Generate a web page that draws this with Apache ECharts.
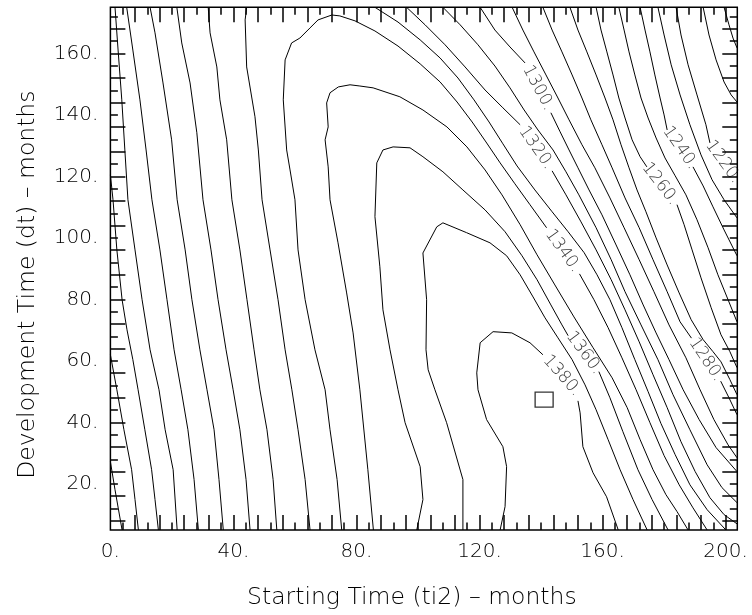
<!DOCTYPE html>
<html>
<head>
<meta charset="utf-8">
<script src="https://cdn.jsdelivr.net/npm/echarts@6/dist/echarts.min.js"></script>
<style>
  html, body { margin: 0; padding: 0; background: #fff; }
  #chart { width: 752px; height: 615px; }
</style>
</head>
<body>
<div id="chart"></div>
<script>
// Axis extents (months)
const X_MIN = 0, X_MAX = 203.8;
const Y_MIN = 5, Y_MAX = 175;

// Tick labels
const xLabelValues = [0, 40, 80, 120, 160, 200];
const yLabelValues = [20, 40, 60, 80, 100, 120, 140, 160];

// Tick marks: long every 8 months, short halfway between
const xLongTicks = [8, 16, 24, 32, 40, 48, 56, 64, 72, 80, 88, 96, 104, 112, 120, 128, 136, 144, 152, 160, 168, 176, 184, 192, 200];
const xShortTicks = [4, 12, 20, 28, 36, 44, 52, 60, 68, 76, 84, 92, 100, 108, 116, 124, 132, 140, 148, 156, 164, 172, 180, 188, 196];
const yLongTicks = [8, 16, 24, 32, 40, 48, 56, 64, 72, 80, 88, 96, 104, 112, 120, 128, 136, 144, 152, 160, 168];
const yShortTicks = [12, 20, 28, 36, 44, 52, 60, 68, 76, 84, 92, 100, 108, 116, 124, 132, 140, 148, 156, 164, 172];

// Contour lines, [ti2, dt] vertices. null leaves a gap where the level is written.
// Left-hand family (slowly rising toward the ridge)
const c1250 = [[0, 27.2], [1.5, 18.1], [3.8, 5.0]];
const c1260 = [[0, 62.0], [2.1, 50.6], [4.4, 37.6], [6.9, 24.6], [8.0, 14.9], [9.1, 5.0]];
const c1270a = [[0, 120.5], [0.85, 112.4], [2.1, 96.1], [3.8, 79.9], [5.4, 70.1], [7.3, 60.4], [9.0, 50.6], [11.2, 37.6], [13.4, 24.6], [14.5, 14.9], [15.6, 5.0]];
const c1280a = [[1.5, 175], [2.5, 161.1], [3.7, 144.9], [4.7, 128.6], [5.7, 112.4], [8.0, 96.1], [10.3, 79.9], [12.9, 63.6], [15.8, 50.6], [17.8, 37.6], [20.4, 24.6], [21.7, 5.0]];
const c1290a = [[5.3, 175], [7.3, 161.1], [9.6, 144.9], [11.6, 128.6], [13.5, 112.4], [16.1, 96.1], [18.4, 79.9], [20.7, 63.6], [23.0, 50.6], [25.2, 37.6], [27.2, 21.4], [28.6, 5.0]];
const c1300a = [[12.9, 175], [14.5, 166.7], [17.1, 150.4], [19.9, 131.9], [21.7, 112.4], [24.3, 96.1], [26.5, 79.9], [29.1, 63.6], [31.4, 50.6], [33.7, 37.6], [35.3, 21.4], [36.7, 5.0]];
const c1310a = [[21.6, 175], [23.2, 163.4], [25.9, 150.4], [28.1, 134.2], [30.1, 112.4], [32.7, 96.1], [35.0, 79.9], [37.6, 63.6], [39.9, 50.6], [42.1, 37.6], [44.1, 21.4], [45.4, 5.0]];
const c1320a = [[31.8, 175], [32.4, 166.7], [34.6, 155.6], [35.6, 144.9], [37.8, 131.9], [39.5, 112.4], [42.1, 96.1], [44.4, 79.9], [46.7, 63.6], [48.6, 50.6], [50.9, 37.6], [52.9, 21.4], [54.1, 5.0]];
const c1330a = [[44.3, 175], [43.8, 170.9], [44.3, 155.6], [47.0, 139.4], [48.1, 128.6], [49.3, 112.4], [51.9, 96.1], [54.5, 79.9], [56.8, 63.6], [59.0, 50.6], [61.0, 37.6], [63.3, 21.4], [64.9, 5.0]];

// Closed-off arcs around the maximum
const c1340 = [[75.2, 5.0], [73.7, 21.4], [71.4, 37.6], [69.8, 50.6], [66.5, 63.6], [63.3, 79.9], [61.0, 96.1], [60.0, 112.4], [58.4, 122.1], [57.3, 128.6], [56.2, 144.9], [56.8, 157.9], [58.9, 163.4], [61.6, 165.0], [64.9, 168.3], [67.5, 170.9], [72.0, 172.5], [74.6, 172.2], [79.5, 170.6], [86.0, 167.3], [93.5, 162.4], [100.7, 156.6], [107.2, 150.7], [112.7, 144.2], [117.6, 137.7], [122.1, 131.2], [126.7, 124.4], [131.5, 117.6], [136.4, 110.8], [141.8, 103.3], null, [152.5, 88.3], [157.2, 79.9], [161.8, 70.8], [166.3, 61.0], [170.9, 50.6], [175.4, 39.9], [180.0, 29.2], [184.9, 19.7], [189.4, 12.2], [194.0, 5.0]];
const c1350 = [[85.5, 5.0], [83.7, 24.6], [81.1, 50.6], [78.9, 69.1], [76.8, 82.1], [74.0, 98.4], [71.4, 112.4], [70.8, 123.1], [69.8, 131.9], [70.8, 136.1], [70.3, 143.9], [71.4, 147.2], [74.1, 149.1], [77.9, 149.8], [81.1, 149.4], [85.4, 148.8], [94.1, 145.9], [101.6, 141.6], [109.4, 136.1], [115.9, 129.6], [121.8, 122.1], [127.3, 114.0], [133.2, 104.3], [138.7, 94.5], [144.5, 84.7], [150.7, 74.3], [156.9, 64.3], [163.1, 54.5], [168.0, 44.8], [172.2, 34.4], [176.4, 24.6], [180.6, 16.5], [184.2, 11.0], [187.8, 5.0]];
const c1360 = [[99.6, 5.0], [101.6, 14.9], [100.7, 25.6], [95.8, 39.9], [93.5, 50.6], [90.9, 63.6], [88.6, 76.6], [87.6, 90.6], [86.0, 106.9], [86.6, 124.4], [88.6, 128.6], [91.9, 129.6], [97.4, 129.3], [101.6, 126.4], [108.1, 121.5], [114.6, 115.6], [121.8, 109.1], [128.3, 102.0], [133.8, 94.2], [138.7, 86.4], [143.2, 78.2], [146.8, 71.7], [148.8, 68.2], null, [158.8, 56.5], [162.4, 48.0], [166.6, 37.0], [171.5, 24.6], [176.1, 14.9], [181.3, 5.0]];
const c1370 = [[114.6, 5.0], [114.6, 21.4], [109.3, 39.9], [105.5, 50.6], [103.3, 57.1], [102.6, 63.6], [102.8, 79.9], [101.6, 95.1], [106.1, 103.6], [108.1, 104.9], [115.8, 101.7], [123.4, 98.4], [128.8, 94.2], [133.2, 88.0], [137.4, 80.8], [141.3, 74.0], [145.5, 67.5], [150.1, 60.4], [154.3, 52.2], [157.9, 44.1], [161.8, 34.4], [165.7, 24.6], [169.9, 14.9], [174.5, 5.0]];
const c1380 = [[126.7, 5.0], [128.3, 12.6], [128.8, 25.6], [127.6, 32.1], [122.3, 40.9], [119.5, 50.6], [119.1, 56.1], [120.2, 65.9], [124.4, 69.5], [130.5, 69.1], [136.4, 65.9], [140.6, 62.0], null, [152.0, 47.0], [152.7, 43.1], [153.6, 32.1], [156.9, 23.6], [161.3, 15.8], [165.1, 5.0]];

// Right-hand family (steep fall toward the far corner)
const c1330b = [[86.0, 175], [93.5, 170.2], [100.7, 164.4], [107.2, 158.5], [113.0, 152.0], [118.2, 144.9], [123.1, 137.7], [127.6, 130.6], [132.2, 123.4], [138.0, 115.6], [143.6, 108.5], [148.8, 102.0], [154.0, 95.2], [158.2, 88.0], [162.4, 79.9], [166.3, 70.8], [170.5, 60.4], [174.8, 50.0], [179.0, 39.6], [183.6, 29.5], [188.4, 19.7], [194.0, 11.6], [200.1, 5.0]];
const c1320b = [[96.3, 175], [102.3, 169.3], [108.8, 162.8], [115.3, 155.6], [121.8, 148.1], [127.6, 142.3], [133.2, 136.8], null, [143.6, 121.8], [148.1, 114.0], [153.0, 105.2], [157.9, 96.1], [162.8, 86.4], [167.3, 76.6], [171.9, 66.2], [176.4, 55.5], [181.0, 44.8], [185.5, 33.7], [190.1, 24.0], [194.9, 15.5], [199.5, 10.0], [203.7, 7.0]];
const c1310b = [[108.1, 175], [113.7, 169.3], [119.5, 162.8], [125.0, 155.9], [129.9, 148.8], [134.5, 141.6], [139.0, 135.1], [143.9, 128.6], [148.1, 121.5], [152.3, 114.0], [157.9, 103.3], [162.8, 92.9], [167.3, 82.5], [172.5, 71.7], [178.0, 60.4], [182.9, 49.0], [188.4, 37.6], [194.0, 26.2], [198.8, 18.8], [203.7, 13.9]];
const c1300b = [[120.2, 175], [125.0, 167.6], [129.9, 162.1], [134.8, 156.9], null, [143.2, 140.7], [146.2, 134.5], [149.1, 128.6], [152.0, 122.8], [155.6, 115.6], [159.8, 107.5], [164.4, 97.7], [168.9, 88.0], [173.2, 78.2], [177.4, 69.1], [181.6, 60.4], [186.2, 50.6], [191.4, 40.9], [196.9, 31.8], [203.7, 24.0]];
const c1290b = [[130.6, 175], [134.1, 167.6], [137.7, 160.5], [141.6, 153.0], [145.5, 145.5], [149.1, 138.4], [153.3, 130.3], [157.5, 122.8], [162.4, 113.0], [167.0, 103.3], [171.9, 92.9], [176.7, 82.5], [181.6, 71.7], [187.1, 61.0], [191.7, 50.6], [196.2, 40.9], [200.8, 32.7], [203.7, 28.5]];
const c1280b = [[140.6, 175], [143.6, 167.6], [146.8, 160.5], [150.1, 153.0], [153.3, 145.5], [156.2, 138.4], [159.8, 130.3], [163.1, 122.8], [167.3, 113.0], [171.9, 103.3], [176.4, 92.9], [181.0, 82.5], [185.2, 72.7], [188.9, 67.4], null, [198.4, 53.4], [201.1, 48.0], [203.7, 42.5]];
const c1270b = [[149.4, 175], [152.0, 167.6], [154.9, 160.5], [157.9, 153.0], [160.8, 145.5], [163.4, 138.4], [166.0, 130.3], [168.6, 122.8], [171.2, 115.6], [174.1, 108.5], [177.4, 100.0], [181.0, 91.2], [184.9, 82.1], [188.8, 73.4], [192.7, 66.9], [195.9, 63.0], [198.5, 59.7], [201.4, 53.9], [203.7, 49.0]];
const c1260b = [[157.9, 175], [159.5, 167.6], [161.4, 160.5], [163.4, 153.0], [165.3, 145.5], [167.3, 139.0], [169.6, 131.9], [172.2, 126.4], [174.4, 123.1], null, [184.2, 110.8], [186.5, 104.3], [189.1, 96.1], [192.0, 87.0], [195.3, 77.3], [198.5, 68.5], [201.4, 63.0], [203.7, 57.8]];
const c1250b = [[165.3, 175], [167.0, 167.6], [168.6, 160.5], [170.5, 153.0], [172.5, 145.5], [174.8, 139.0], [177.4, 132.5], [180.3, 126.0], [183.6, 120.2], [187.1, 114.0], [190.7, 105.9], [194.3, 96.8], [197.5, 88.0], [200.8, 79.9], [203.7, 72.7]];
const c1240 = [[172.2, 175], [173.8, 167.6], [175.4, 160.5], [177.0, 153.0], [178.7, 145.5], [180.0, 140.0], [181.0, 135.1], null, [189.4, 123.1], [192.7, 116.9], [195.9, 110.1], [199.5, 102.6], [203.7, 94.2]];
const c1230 = [[178.0, 175], [180.0, 166.0], [182.3, 156.3], [185.2, 146.5], [188.4, 136.8], [192.0, 127.0], [195.6, 118.9], [199.5, 112.4], [203.7, 106.5]];
const c1220 = [[183.9, 175], [185.5, 166.0], [187.8, 156.3], [190.7, 146.5], [193.6, 136.8], [194.9, 130.9]];
const c1210 = [[192.7, 175], [194.6, 166.0], [196.9, 157.9], [199.5, 150.7], [201.8, 146.5], [203.7, 144.2]];
const c1200 = [[199.5, 175], [201.1, 169.3], [202.4, 165.0], [203.7, 161.8]];

// Written levels: [ti2, dt, level, text angle]
const contourLabels = [
  [146.8, 55.2, 1380, -48],
  [154.0, 62.6, 1360, -53],
  [147.1, 95.8, 1340, -54],
  [138.4, 129.3, 1320, -55],
  [139.0, 148.8, 1300, -62],
  [193.6, 60.4, 1280, -56],
  [178.7, 117.6, 1260, -52],
  [185.2, 129.3, 1240, -55],
  [199.2, 124.7, 1220, -54]
];

// Location of the maximum
const maxPoint = [[141.0, 47.4]];

const contours = [
  c1250, c1260, c1270a, c1280a, c1290a, c1300a, c1310a, c1320a, c1330a,
  c1340, c1350, c1360, c1370, c1380,
  c1330b, c1320b, c1310b, c1300b, c1290b, c1280b, c1270b, c1260b, c1250b,
  c1240, c1230, c1220, c1210, c1200
];

const FONT = "'DejaVu Sans ExtraLight', 'DejaVu Sans', sans-serif";
const WEIGHT = 200;
const INK = '#000';

function tickAxis(kind, position, ticks, length, extra) {
  const isX = kind === 'x';
  return Object.assign({
    type: 'value',
    position: position,
    min: isX ? X_MIN : Y_MIN,
    max: isX ? X_MAX : Y_MAX,
    axisLine: { show: false, onZero: false },
    axisTick: { show: true, inside: true, length: length, customValues: ticks, lineStyle: { color: INK, width: 1.5 } },
    axisLabel: { show: false },
    splitLine: { show: false }
  }, extra || {});
}

const chart = echarts.init(document.getElementById('chart'), null, { renderer: 'canvas' });

const series = contours.map(function (pts) {
  return {
    type: 'line',
    data: pts.map(function (p) { return p === null ? [null, null] : p; }),
    showSymbol: false,
    symbol: 'none',
    connectNulls: false,
    silent: true,
    lineStyle: { color: INK, width: 1 },
    animation: false,
    z: 2
  };
});

series.push({
  type: 'scatter',
  data: contourLabels.map(function (d) { return { value: [d[0], d[1]], level: d[2] }; }),
  symbolSize: 0,
  silent: true,
  animation: false,
  label: {
    show: true,
    position: 'inside',
    fontFamily: FONT,
    fontWeight: WEIGHT,
    fontSize: 17,
    color: INK,
    formatter: function (p) { return p.data.level + '.'; }
  },
  labelLayout: function (params) {
    return { rotate: contourLabels[params.dataIndex][3] };
  },
  z: 3
});

series.push({
  type: 'scatter',
  data: maxPoint,
  symbol: 'rect',
  symbolSize: [18, 15],
  silent: true,
  animation: false,
  itemStyle: { color: 'rgba(0,0,0,0)', borderColor: INK, borderWidth: 1.2 },
  z: 3
});

chart.setOption({
  backgroundColor: '#fff',
  animation: false,
  grid: {
    left: 110.4, top: 7.3, width: 626.9, height: 523,
    show: true, borderColor: INK, borderWidth: 1.5, backgroundColor: 'transparent'
  },
  xAxis: [
    tickAxis('x', 'bottom', xLongTicks, 15, {
      axisLabel: {
        show: true, customValues: xLabelValues, margin: 12,
        fontFamily: FONT, fontWeight: WEIGHT, fontSize: 20, color: INK,
        formatter: function (v) { return v + '.'; }
      },
      name: 'Starting Time (ti2) \u2013 months',
      nameLocation: 'middle', nameGap: 56,
      nameTextStyle: { fontFamily: FONT, fontWeight: WEIGHT, fontSize: 23.5, color: INK, padding: [0, 24, 0, 0] }
    }),
    tickAxis('x', 'top', xLongTicks, 15),
    tickAxis('x', 'bottom', xShortTicks, 7.5),
    tickAxis('x', 'top', xShortTicks, 7.5)
  ],
  yAxis: [
    tickAxis('y', 'left', yLongTicks, 15, {
      axisLabel: {
        show: true, customValues: yLabelValues, margin: 12,
        fontFamily: FONT, fontWeight: WEIGHT, fontSize: 20, color: INK,
        formatter: function (v) { return v + '.'; }
      },
      name: 'Development Time (dt) \u2013 months',
      nameLocation: 'middle', nameGap: 71,
      nameTextStyle: { fontFamily: FONT, fontWeight: WEIGHT, fontSize: 23.5, color: INK, padding: [0, 32, 0, 0] }
    }),
    tickAxis('y', 'right', yLongTicks, 15),
    tickAxis('y', 'left', yShortTicks, 7.5),
    tickAxis('y', 'right', yShortTicks, 7.5)
  ],
  series: series
});
</script>
</body>
</html>
